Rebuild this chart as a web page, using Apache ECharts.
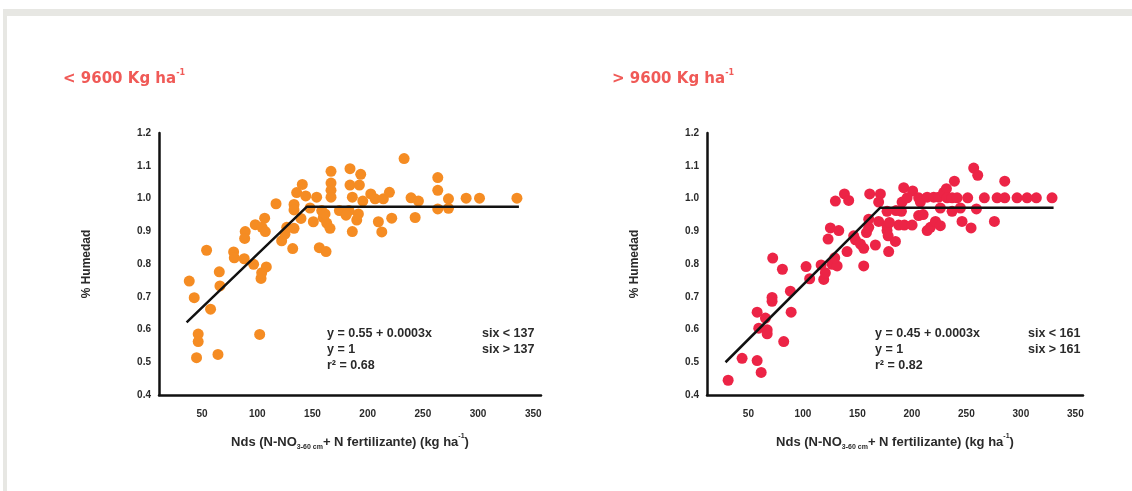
<!DOCTYPE html>
<html>
<head>
<meta charset="utf-8">
<script src="https://cdn.jsdelivr.net/npm/echarts@6/dist/echarts.min.js"></script>
<style>
  html, body { margin: 0; padding: 0; background: #ffffff; }
  #chart { width: 1132px; height: 491px; }
</style>
</head>
<body>
<div id="chart"></div>
<script>
// Panel headings
const panelTitles = ['< 9600 Kg ha', '> 9600 Kg ha'];

// Axis ticks
const yTicks = { min: 0.4, max: 1.2, step: 0.1 };
const xTickStep = 50;

// Yield < 9600 kg/ha: Nds (kg/ha) and relative moisture
const lowNds = [38.4, 42.9, 54.1, 57.7, 46.5, 46.5, 45.0, 64.4, 65.6, 66.2, 78.6, 79.2, 88.2, 89.1, 88.6,
  96.7, 102.2, 103.4, 104.0, 108.2, 98.2, 104.3, 106.7, 107.3, 117.0, 122.1, 125.1, 126.7, 133.3, 132.1,
  133.3, 133.3, 135.7, 140.8, 139.6, 143.9, 147.8, 150.8, 153.8, 156.2, 158.4, 159.8, 162.9, 162.3, 165.9,
  166.8, 166.8, 166.8, 166.8, 161.4, 174.4, 183.1, 180.4, 191.6, 190.1, 186.1, 184.0, 192.5, 186.1, 202.8,
  184.0, 193.7, 195.6, 206.7, 214.2, 219.7, 209.7, 212.8, 221.8, 233.0, 239.3, 246.0, 243.0, 263.5, 263.5,
  263.5, 273.2, 273.2, 289.2, 301.3, 335.2];
const lowHum = [0.748, 0.697, 0.842, 0.662, 0.586, 0.563, 0.514, 0.524, 0.776, 0.733, 0.837, 0.819, 0.816, 0.899, 0.878,
  0.799, 0.585, 0.756, 0.773, 0.791, 0.920, 0.912, 0.940, 0.899, 0.984, 0.871, 0.891, 0.912, 0.909, 0.847,
  0.982, 0.965, 1.018, 1.043, 0.939, 1.008, 0.971, 0.929, 1.004, 0.850, 0.963, 0.942, 0.925, 0.838, 0.909,
  1.083, 1.047, 1.025, 1.004, 0.953, 0.963, 0.963, 0.949, 0.953, 0.934, 0.899, 1.041, 1.041, 1.004, 1.014,
  1.091, 1.074, 0.992, 0.999, 0.999, 1.019, 0.929, 0.898, 0.940, 1.122, 1.002, 0.992, 0.942, 1.064, 1.025,
  0.968, 0.999, 0.970, 1.001, 1.001, 1.001];
// Linear-plateau fit, yield < 9600
const lowFitNds = [36, 145, 337];
const lowFitHum = [0.622, 0.975, 0.975];

// Yield > 9600 kg/ha
const highNds = [31.4, 44.2, 58.0, 61.7, 82.4, 59.5, 67.2, 67.2, 65.6, 58.0, 71.7, 71.7, 89.2, 88.5, 72.3,
  81.2, 102.9, 106.2, 119.1, 120.6, 116.7, 126.8, 131.4, 129.2, 140.5, 123.1, 125.2, 132.9, 148.2, 146.6,
  152.8, 155.8, 155.8, 166.5, 158.3, 160.4, 169.5, 177.2, 178.2, 178.7, 184.9, 177.2, 179.4, 187.9, 193.1,
  200.2, 190.4, 185.5, 177.2, 206.2, 129.8, 138.1, 142.0, 161.3, 171.1, 169.5, 160.4, 192.5, 200.7, 191.0,
  195.6, 206.2, 207.8, 214.0, 220.0, 224.6, 229.2, 231.7, 239.0, 232.3, 236.9, 241.5, 251.2, 266.5, 278.2,
  285.2, 285.2, 296.5, 305.7, 314.2, 328.6, 256.7, 260.4, 226.1, 236.9, 244.5, 259.2, 210.3, 214.0, 217.0,
  221.6, 226.1, 246.0, 254.3, 275.7];
const highHum = [0.445, 0.512, 0.505, 0.469, 0.563, 0.604, 0.599, 0.587, 0.635, 0.653, 0.686, 0.698, 0.653, 0.717, 0.818,
  0.784, 0.792, 0.755, 0.753, 0.773, 0.797, 0.799, 0.794, 0.819, 0.838, 0.876, 0.910, 0.902, 0.874, 0.886,
  0.861, 0.848, 0.794, 0.858, 0.896, 0.912, 0.930, 0.902, 0.886, 0.838, 0.869, 0.917, 0.927, 0.919, 0.919,
  0.919, 0.961, 0.963, 0.961, 0.948, 0.992, 1.014, 0.994, 1.014, 1.014, 0.989, 0.937, 1.033, 1.023, 0.989,
  1.002, 1.002, 0.989, 1.004, 1.004, 1.004, 1.019, 1.030, 1.053, 1.002, 1.002, 1.002, 1.002, 1.002, 1.002,
  1.002, 1.053, 1.002, 1.002, 1.002, 1.002, 1.093, 1.071, 0.971, 0.961, 0.971, 0.968, 0.951, 0.902, 0.912,
  0.930, 0.917, 0.930, 0.910, 0.930];
// Linear-plateau fit, yield > 9600
const highFitNds = [29, 171, 330];
const highFitHum = [0.50, 0.972, 0.972];

// Fit equations printed in each panel
const lowEquation = ['y = 0.55 + 0.0003x', 'y = 1', 'r² = 0.68'];
const lowRange = ['six < 137', 'six > 137'];
const highEquation = ['y = 0.45 + 0.0003x', 'y = 1', 'r² = 0.82'];
const highRange = ['six < 161', 'six > 161'];

const zip = (a, b) => a.map((v, i) => [v, b[i]]);

const INK = '#2a2a2a';
const HEAD = '#f05a57';
const ORANGE = '#f58c23';
const RED = '#ec2446';
const FONT = '"Liberation Sans", Arial, sans-serif';

const axisNameRich = {
  m: { fontSize: 13, fontWeight: 'bold', color: INK, fontFamily: FONT, lineHeight: 18 },
  sub: { fontSize: 7, fontWeight: 'bold', color: INK, fontFamily: FONT, lineHeight: 8, verticalAlign: 'bottom' },
  sup: { fontSize: 7, fontWeight: 'bold', color: INK, fontFamily: FONT, lineHeight: 8, verticalAlign: 'top' }
};
const xName = '{m|Nds (N-NO}{sub|3-60 cm}{m|+ N fertilizante) (kg ha}{sup|-1}{m|)}';

const grids = [
  { left: 159, top: 133, width: 382, height: 262 },
  { left: 707, top: 133, width: 376, height: 262 }
];
const xRanges = [[11, 357], [12, 357]];

function makeX(i) {
  return {
    gridIndex: i, type: 'value', min: xRanges[i][0], max: xRanges[i][1], splitNumber: 7,
    axisLine: { show: true, lineStyle: { color: '#111', width: 2.5 } },
    axisTick: { show: false }, splitLine: { show: false },
    axisLabel: {
      margin: 14, fontSize: 10, fontWeight: 'bold', color: INK, fontFamily: FONT,
      formatter: v => (v % xTickStep === 0 ? String(v) : '')
    },
    name: xName, nameLocation: 'middle', nameGap: 38,
    nameTextStyle: { rich: axisNameRich }
  };
}
function makeY(i) {
  return {
    gridIndex: i, type: 'value', min: yTicks.min, max: yTicks.max, interval: yTicks.step,
    axisLine: { show: true, lineStyle: { color: '#111', width: 2.5 } },
    axisTick: { show: false }, splitLine: { show: false },
    axisLabel: {
      margin: 8, fontSize: 10, fontWeight: 'bold', color: INK, fontFamily: FONT,
      formatter: v => v.toFixed(1)
    },
    name: '% Humedad', nameLocation: 'middle', nameGap: 66,
    nameTextStyle: { fontSize: 12, fontWeight: 'bold', color: INK, fontFamily: FONT }
  };
}

function titleOf(text, left) {
  return {
    left: left, top: 64,
    text: '{m|' + text + '}{s|-1}',
    textStyle: {
      rich: {
        m: { fontSize: 15, fontWeight: 'bold', color: HEAD, fontFamily: '"DejaVu Sans", sans-serif', lineHeight: 20 },
        s: { fontSize: 8, fontWeight: 'bold', color: HEAD, fontFamily: '"DejaVu Sans", sans-serif', lineHeight: 10, verticalAlign: 'top' }
      }
    }
  };
}

function textBlock(lines, x, y) {
  return lines.map((t, k) => ({
    type: 'text', left: x, top: y + k * 16,
    style: { text: t, fill: INK, font: 'bold 12.5px ' + FONT }
  }));
}

const chart = echarts.init(document.getElementById('chart'), null, { renderer: 'canvas' });
chart.setOption({
  backgroundColor: '#ffffff',
  animation: false,
  title: [titleOf(panelTitles[0], 58), titleOf(panelTitles[1], 607)],
  grid: grids,
  xAxis: [makeX(0), makeX(1)],
  yAxis: [makeY(0), makeY(1)],
  series: [
    { type: 'scatter', xAxisIndex: 0, yAxisIndex: 0, data: zip(lowNds, lowHum), symbolSize: 11,
      itemStyle: { color: ORANGE, opacity: 1 } },
    { type: 'line', xAxisIndex: 0, yAxisIndex: 0, data: zip(lowFitNds, lowFitHum), symbol: 'none',
      lineStyle: { color: '#111', width: 2.5 }, z: 3 },
    { type: 'scatter', xAxisIndex: 1, yAxisIndex: 1, data: zip(highNds, highHum), symbolSize: 11,
      itemStyle: { color: RED, opacity: 1 } },
    { type: 'line', xAxisIndex: 1, yAxisIndex: 1, data: zip(highFitNds, highFitHum), symbol: 'none',
      lineStyle: { color: '#111', width: 2.5 }, z: 3 }
  ],
  graphic: [
    // page frame
    { type: 'rect', shape: { x: 3, y: 9, width: 1129, height: 7 }, style: { fill: '#e7e7e3' }, silent: true },
    { type: 'rect', shape: { x: 3, y: 9, width: 4, height: 482 }, style: { fill: '#e7e7e3' }, silent: true },
    ...textBlock(lowEquation, 327, 327),
    ...textBlock(lowRange, 482, 327),
    ...textBlock(highEquation, 875, 327),
    ...textBlock(highRange, 1028, 327)
  ]
});
</script>
</body>
</html>
